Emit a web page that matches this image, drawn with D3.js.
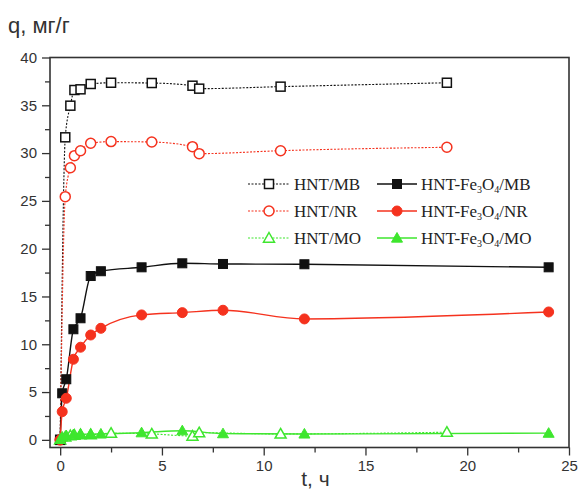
<!DOCTYPE html>
<html>
<head>
<meta charset="utf-8">
<script src="https://cdn.jsdelivr.net/npm/d3@7"></script>
<style>
  html, body { margin: 0; padding: 0; background: #fff; }
  svg { display: block; }
</style>
</head>
<body>
<svg id="chart" width="579" height="491"></svg>
<script>
// ---- data ----
const tOpen = [0, 0.25, 0.5, 0.7, 1, 1.5, 2.5, 4.5, 6.5, 6.83, 10.83, 19];
const tFe   = [0, 0.1, 0.3, 0.65, 1, 1.5, 2, 4, 6, 8, 12, 24];

const hntMB   = [0, 31.65, 34.96, 36.6, 36.67, 37.23, 37.36, 37.33, 37.05, 36.74, 36.95, 37.36];
const hntNR   = [0, 25.44, 28.47, 29.73, 30.25, 31.03, 31.2, 31.16, 30.67, 29.94, 30.25, 30.61];
const hntMO   = [0, 0.3, 0.45, 0.5, 0.55, 0.55, 0.7, 0.62, 0.4, 0.75, 0.62, 0.8];
const feMB    = [0, 4.87, 6.34, 11.57, 12.72, 17.14, 17.64, 18.05, 18.47, 18.4, 18.37, 18.05];
const feNR    = [0, 2.95, 4.35, 8.43, 9.69, 10.97, 11.67, 13.07, 13.31, 13.56, 12.65, 13.38];
const feMO    = [0.05, 0.3, 0.45, 0.55, 0.6, 0.6, 0.62, 0.75, 0.96, 0.65, 0.62, 0.7];

const xTicks = [0, 5, 10, 15, 20, 25];
const yTicks = [0, 5, 10, 15, 20, 25, 30, 35, 40];
const xTitle = "t, ч";
const yTitle = "q, мг/г";

const BLACK = "#111", RED = "#f5321e", GREEN = "#3ee62e";

const series = [
  {name: "HNT/MB", t: tOpen, v: hntMB, color: BLACK, shape: "square", filled: false, dotted: true},
  {name: "HNT/NR", t: tOpen, v: hntNR, color: RED, shape: "circle", filled: false, dotted: true},
  {name: "HNT/MO", t: tOpen, v: hntMO, color: GREEN, shape: "triangle", filled: false, dotted: true},
  {name: "HNT-Fe3O4/MB", t: tFe, v: feMB, color: BLACK, shape: "square", filled: true, dotted: false},
  {name: "HNT-Fe3O4/NR", t: tFe, v: feNR, color: RED, shape: "circle", filled: true, dotted: false},
  {name: "HNT-Fe3O4/MO", t: tFe, v: feMO, color: GREEN, shape: "triangle", filled: true, dotted: false}
];

// ---- layout ----
const L = 50, R = 569, T = 57.5, B = 447.5;
const svg = d3.select("#chart");
const x = d3.scaleLinear().domain([-0.5, 25]).range([L, R]);
const y = d3.scaleLinear().domain([-0.8, 40]).range([B, T]);

const AX = "#333";
const tickFont = "'Liberation Sans', Arial, sans-serif";

// minor ticks
const xMinor = d3.range(0, 25.01, 2.5).filter(d => !xTicks.includes(d));
const yMinor = d3.range(0, 40.01, 2.5).filter(d => !yTicks.includes(d));

const gx = svg.append("g").attr("transform", `translate(0,${B})`)
  .call(d3.axisBottom(x).tickValues(xTicks).tickSize(8).tickPadding(5).tickFormat(d3.format("d")));
const gxm = svg.append("g").attr("transform", `translate(0,${B})`)
  .call(d3.axisBottom(x).tickValues(xMinor).tickSize(5).tickFormat(""));
const gy = svg.append("g").attr("transform", `translate(${L},0)`)
  .call(d3.axisLeft(y).tickValues(yTicks).tickSize(8).tickPadding(5).tickFormat(d3.format("d")));
const gym = svg.append("g").attr("transform", `translate(${L},0)`)
  .call(d3.axisLeft(y).tickValues(yMinor).tickSize(5).tickFormat(""));

[gx, gxm, gy, gym].forEach(g => {
  g.select(".domain").remove();
  g.selectAll(".tick line").attr("stroke", AX).attr("stroke-width", 1.3);
  g.selectAll(".tick text").attr("fill", "#333").style("font-family", tickFont).style("font-size", "15px");
});

// frame
svg.append("rect").attr("x", L).attr("y", T).attr("width", R - L).attr("height", B - T)
  .attr("fill", "none").attr("stroke", AX).attr("stroke-width", 1.6);

// titles
svg.append("text").attr("x", 8).attr("y", 33).text(yTitle)
  .attr("fill", "#333").style("font-family", tickFont).style("font-size", "22px");
svg.append("text").attr("x", (L + R) / 2 + 6).attr("y", 486).attr("text-anchor", "middle").text(xTitle)
  .attr("fill", "#333").style("font-family", tickFont).style("font-size", "21px");

// ---- lines ----
const plot = svg.append("g");
series.forEach(s => {
  const pts = s.t.map((t, i) => [t, s.v[i]]);
  const line = d3.line().x(d => x(d[0])).y(d => y(d[1])).curve(d3.curveMonotoneX);
  plot.append("path").datum(pts).attr("d", line)
    .attr("fill", "none").attr("stroke", s.color)
    .attr("stroke-width", s.dotted ? 1.1 : 1.4)
    .attr("stroke-dasharray", s.dotted ? "2,1.5" : null);
});

function drawMarker(g, s, cx, cy) {
  const fill = s.filled ? s.color : "#fff";
  const sw = s.filled ? 1 : 1.5;
  if (s.shape === "square") {
    g.append("rect").attr("x", cx - 4.5).attr("y", cy - 4.5).attr("width", 9).attr("height", 9)
      .attr("fill", fill).attr("stroke", s.color).attr("stroke-width", sw);
  } else if (s.shape === "circle") {
    g.append("circle").attr("cx", cx).attr("cy", cy).attr("r", 5)
      .attr("fill", fill).attr("stroke", s.color).attr("stroke-width", sw);
  } else {
    const h = 5.5;
    g.append("path").attr("d", `M${cx},${cy - h} L${cx + h},${cy + h * 0.75} L${cx - h},${cy + h * 0.75} Z`)
      .attr("fill", fill).attr("stroke", s.color).attr("stroke-width", sw);
  }
}

series.forEach(s => {
  s.t.forEach((t, i) => drawMarker(plot, s, x(t), y(s.v[i])));
});

// ---- legend ----
const lg = svg.append("g");
const rowsY = [184, 211, 238];
const cols = [{x0: 248, x1: 290, tx: 294}, {x0: 377, x1: 417, tx: 421}];
const legendFont = "'Liberation Serif', 'Times New Roman', serif";
series.forEach((s, i) => {
  const col = cols[s.filled ? 1 : 0];
  const ry = rowsY[i % 3];
  lg.append("line").attr("x1", col.x0).attr("x2", col.x1).attr("y1", ry).attr("y2", ry)
    .attr("stroke", s.color).attr("stroke-width", s.dotted ? 1.1 : 1.4)
    .attr("stroke-dasharray", s.dotted ? "2,1.5" : null);
  drawMarker(lg, s, (col.x0 + col.x1) / 2, ry);
  const txt = lg.append("text").attr("x", col.tx).attr("y", ry + 5.5)
    .attr("fill", "#222").style("font-family", legendFont).style("font-size", "17px");
  if (s.filled) {
    const suffix = s.name.split("/")[1];
    txt.append("tspan").text("HNT-Fe");
    txt.append("tspan").text("3").style("font-size", "10px").attr("dy", 3);
    txt.append("tspan").text("O").attr("dy", -3);
    txt.append("tspan").text("4").style("font-size", "10px").attr("dy", 3);
    txt.append("tspan").text("/" + suffix).attr("dy", -3);
  } else {
    txt.text(s.name);
  }
});
</script>
</body>
</html>
